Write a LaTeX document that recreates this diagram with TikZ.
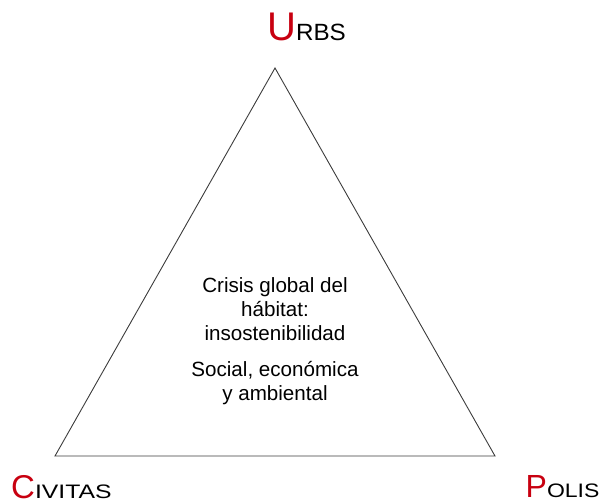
\documentclass[tikz,border=0pt]{standalone}
\usepackage{fontspec}
\setmainfont{Liberation Sans}
\definecolor{titlered}{RGB}{200,0,16}
\definecolor{edgegray}{RGB}{60,60,60}
\begin{document}
\begin{tikzpicture}[x=1pt,y=-1pt,
  corner/.style={inner sep=0pt,anchor=base west},
  body/.style={inner sep=0pt,anchor=base,align=center,font=\fontsize{20.6}{24}\selectfont},
  edge/.style={draw=edgegray,line width=0.9pt,line join=miter}]
\useasboundingbox (0,0) rectangle (606,504);
\coordinate (top) at (275,68);
\coordinate (left) at (55,456);
\coordinate (right) at (495,456);
\draw[edge] (top) -- (left) -- (right) -- cycle;
\node[corner] (urbs) at (267,40) {{\fontsize{40}{40}\selectfont\color{titlered}U}{\fontsize{23.5}{23.5}\selectfont\addfontfeature{FakeStretch=1.03}RBS}};
\node[corner] (civitas) at (11,498) {{\fontsize{33}{33}\selectfont\color{titlered}C}{\fontsize{19.5}{19.5}\selectfont\addfontfeature{FakeStretch=1.27}IVITAS}};
\node[corner] (polis) at (525.5,497) {{\fontsize{32}{32}\selectfont\color{titlered}P}{\fontsize{19.5}{19.5}\selectfont\addfontfeature{FakeStretch=1.18}OLIS}};
\node[body] (crisis) at (275,340) {Crisis global del\\hábitat:\\insostenibilidad};
\node[body] (social) at (275,400) {Social, económica\\y ambiental};
\end{tikzpicture}
\end{document}
